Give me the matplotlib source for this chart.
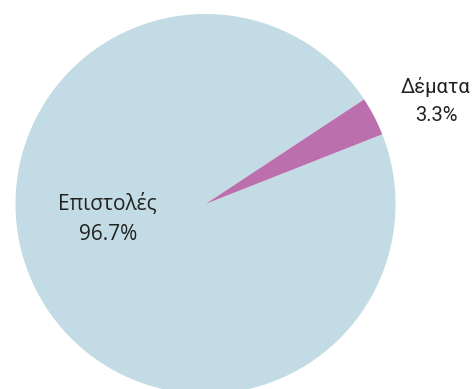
import matplotlib.pyplot as plt

LABELS = ['Επιστολές', 'Δέματα']
VALUES = [96.7, 3.3]
COLORS = ['#c3dbe4', '#bb6fad']
START_ANGLE = 33.4

# label placement (data units, pie radius = 1) and fonts
LABEL_POS = [(-0.515, -0.079), (1.213, 0.542)]
LABEL_FONTS = ['Open Sans', 'Roboto']
LABEL_SIZES = [15, 14.5]


def main():
    fig = plt.figure(figsize=(4.74, 3.89), dpi=100)
    ax = fig.add_axes([0, 0, 1, 1])
    ax.pie(VALUES, colors=COLORS, startangle=START_ANGLE, radius=1.0,
           wedgeprops={'linewidth': 0})
    for name, val, (x, y), fam, size in zip(LABELS, VALUES, LABEL_POS,
                                            LABEL_FONTS, LABEL_SIZES):
        ax.text(x, y, f'{name}\n{val}%', ha='center', va='center',
                fontsize=size, family=fam, color='#222222',
                linespacing=1.6)

    # pixel layout: centre at (205.5, 204), radius 190px
    ax.set_xlim(-205.5 / 190, (474 - 205.5) / 190)
    ax.set_ylim(-(389 - 204) / 190, 204 / 190)
    ax.set_aspect('auto')
    ax.axis('off')
    fig.savefig('out.png', dpi=100)


if __name__ == "__main__":
    main()
